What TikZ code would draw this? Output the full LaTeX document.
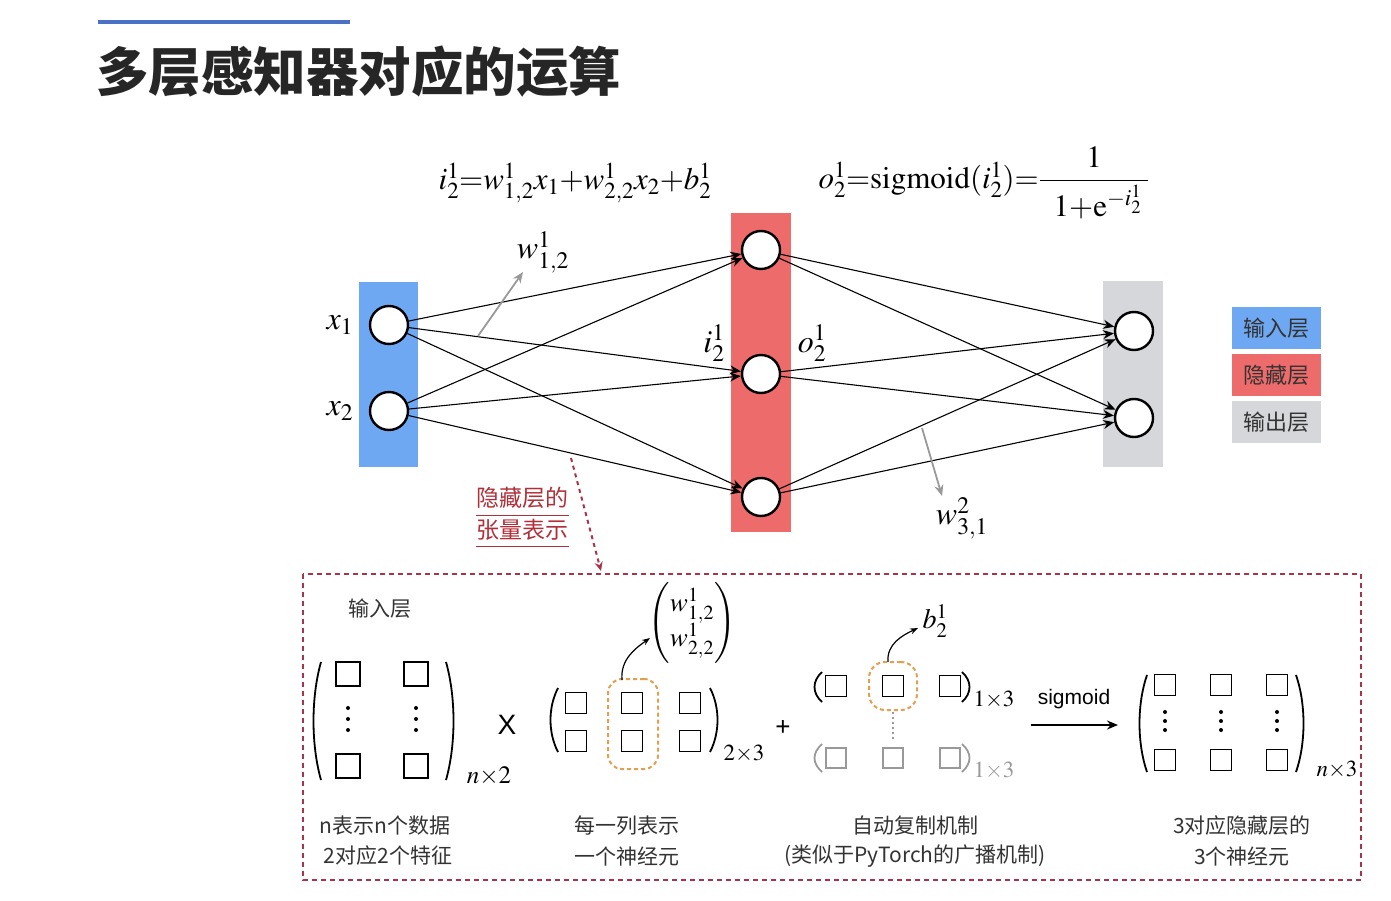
\documentclass[tikz,border=0pt]{standalone}
\usepackage{amsmath}
\usepackage{mathptmx}
\usepackage{fontspec}
\setmainfont{Liberation Serif}
\setsansfont{Liberation Sans}
\newfontfamily\cjk{Noto Sans CJK SC}
\usetikzlibrary{arrows.meta}
\definecolor{inblue}{HTML}{6FA8F2}
\definecolor{hidred}{HTML}{EE6B6B}
\definecolor{outgray}{HTML}{D5D7DA}
\definecolor{titleblue}{HTML}{4A72C4}
\definecolor{boxred}{HTML}{A8344A}
\definecolor{hand}{HTML}{B0303A}
\definecolor{orng}{HTML}{E0A050}
\definecolor{txt}{HTML}{333333}
\newcommand\myLP[3]{\draw[line width=1.8pt] (#1+7,#2) .. controls (#1-3,#2+0.3*#3-0.3*#2) and (#1-3,#3-0.3*#3+0.3*#2) .. (#1+7,#3);}
\newcommand\myRP[3]{\draw[line width=1.8pt] (#1-7,#2) .. controls (#1+3,#2+0.3*#3-0.3*#2) and (#1+3,#3-0.3*#3+0.3*#2) .. (#1-7,#3);}
\newcommand\myDots[3]{\fill (#1,#2-#3) circle (2pt) (#1,#2) circle (2pt) (#1,#2+#3) circle (2pt);}
\begin{document}
\begin{tikzpicture}[x=1pt,y=-1pt,
  neuron/.style={circle,draw=black,line width=2.4pt,fill=white,minimum size=38pt,inner sep=0pt},
  edge/.style={line width=1.1pt,-{Stealth[length=11pt,width=9pt]}},
  grayarr/.style={black!40,line width=1.8pt,-{Stealth[length=11pt,width=9pt]}},
  sq/.style={draw,line width=1.3pt,minimum size=21pt,inner sep=0pt},
  gsq/.style={draw=black!40,line width=1.3pt,minimum size=20pt,inner sep=0pt},
  legend/.style={minimum width=89pt,minimum height=42pt,inner sep=0pt,font=\cjk\fontsize{22}{24}\selectfont,text=txt},
  captxt/.style={font=\cjk\fontsize{21}{24}\selectfont,text=txt},
  handtxt/.style={font=\cjk\fontsize{23}{25}\selectfont,text=hand},
  mlbl/.style={font=\fontsize{32}{34}\selectfont},
  eqtxt/.style={font=\fontsize{31}{34}\selectfont}
]
\useasboundingbox (0,0) rectangle (1391,901);
% title
\draw[titleblue,line width=4pt] (98,22) -- (350,22);
\node[anchor=west,font=\cjk\bfseries\fontsize{52.5}{56}\selectfont,text=black!85,inner sep=0pt] (title) at (96,72) {多层感知器对应的运算};

% layer boxes
\fill[inblue] (359,282) rectangle (418,467);
\fill[hidred] (731,213) rectangle (791,532);
\fill[outgray] (1103,281) rectangle (1163,467);

\node[neuron] (x1) at (389,325) {};
\node[neuron] (x2) at (389,411) {};
\node[neuron] (h1) at (761,250) {};
\node[neuron] (h2) at (761,374) {};
\node[neuron] (h3) at (761,497) {};
\node[neuron] (y1) at (1134,331) {};
\node[neuron] (y2) at (1134,418) {};

\foreach \a in {x1,x2} \foreach \b in {h1,h2,h3} \draw[edge] (\a) -- (\b);
\foreach \a in {h1,h2,h3} \foreach \b in {y1,y2} \draw[edge] (\a) -- (\b);

\node[mlbl] (lx1) at (340,325) {$x_1$};
\node[mlbl] (lx2) at (340,411) {$x_2$};
\node[mlbl] (li) at (714,343) {$i^1_2$};
\node[mlbl] (lo) at (812,343) {$o^1_2$};
\node[mlbl] (lw1) at (543,252) {$w^1_{1,2}$};
\node[mlbl] (lw2) at (962,518) {$w^2_{3,1}$};
\coordinate (w1s) at (478,336);
\coordinate (w1e) at (523,272);
\draw[grayarr] (w1s) -- (w1e);
\coordinate (w2s) at (922,428);
\coordinate (w2e) at (942,496);
\draw[grayarr] (w2s) -- (w2e);

% equations
\node[eqtxt] (eqi) at (575,183) {$i^1_2{=}w^1_{1,2}x_1{+}w^1_{2,2}x_2{+}b^1_2$};
\node[eqtxt,anchor=west] (eqo) at (815,183) {$o^1_2{=}\mathrm{sigmoid}(i^1_2){=}\dfrac{1}{\;\;1{+}\mathrm{e}^{-i^1_2}\;}$};

% legend
\node[legend,fill=inblue] (lg1) at (1276,328) {输入层};
\node[legend,fill=hidred] (lg2) at (1276,375) {隐藏层};
\node[legend,fill=outgray] (lg3) at (1276,422) {输出层};

% red annotation
\node[handtxt] (ann1) at (522,498) {隐藏层的};
\node[handtxt] (ann2) at (522,530) {张量表示};
\draw[hand,line width=1pt] (476,515) -- (569,515);
\draw[hand,line width=1pt] (476,546) -- (569,546);
\coordinate (ds) at (571,458);
\coordinate (de) at (601,571);
\draw[boxred,line width=2pt,dash pattern=on 4pt off 4pt,-{Stealth[length=9pt,width=8pt]}] (ds) -- (de);

% dashed box
\draw[boxred,line width=1.8pt,dash pattern=on 5pt off 4pt] (303,574) rectangle (1361,880);

% matrix 1
\node[captxt] (inl) at (380,609) {输入层};
\myLP{314}{662}{780}
\myRP{453}{662}{780}
\node[sq,minimum size=24pt] (a11) at (348,674) {};
\node[sq,minimum size=24pt] (a12) at (416,674) {};
\node[sq,minimum size=24pt] (a21) at (348,766) {};
\node[sq,minimum size=24pt] (a22) at (416,766) {};
\myDots{348}{719}{11}
\myDots{416}{719}{11}
\node[font=\fontsize{25}{27}\selectfont] (n2) at (489,776) {$n{\times}2$};
\node[font=\sffamily\fontsize{28}{30}\selectfont] (times) at (507,725) {X};

% matrix 2
\myLP{551}{688}{752}
\myRP{717}{688}{752}
\foreach \c/\x in {1/576,2/632,3/690} {
  \node[sq] (b1\c) at (\x,703) {};
  \node[sq] (b2\c) at (\x,741) {};
}
\node[font=\fontsize{23}{25}\selectfont] (d23) at (744,754) {$2{\times}3$};
\node[draw=orng,line width=2pt,dash pattern=on 4pt off 3pt,rounded corners=14pt,minimum width=50pt,minimum height=90pt] (col) at (633,724) {};
\node[font=\fontsize{27}{30}\selectfont] (wvec) at (692,623) {$\begin{pmatrix} w^1_{1,2}\\ w^1_{2,2}\end{pmatrix}$};
\coordinate (wa) at (650,638);
\draw[line width=1.2pt,-{Stealth[length=8pt,width=6pt]}] (622,680) to[out=95,in=215] (wa);
\node[font=\sffamily\fontsize{26}{28}\selectfont] (plus) at (783,728) {+};

% bias vectors
\myLP{815}{672}{702}
\myRP{969}{672}{702}
\node[sq] (c1) at (836,686) {};
\node[sq] (c2) at (893,686) {};
\node[sq] (c3) at (950,686) {};
\node[font=\fontsize{23}{25}\selectfont] (c13) at (994,700) {$1{\times}3$};
\node[draw=orng,line width=2pt,dash pattern=on 4pt off 3pt,rounded corners=16pt,minimum size=48pt] (bc) at (893,686) {};
\coordinate (ba) at (918,628);
\draw[line width=1.2pt,-{Stealth[length=8pt,width=6pt]}] (888,662) to[out=95,in=205] (ba);
\node[font=\fontsize{28}{30}\selectfont] (bl) at (935,621) {$b^1_2$};
\draw[black!40,line width=1.3pt,dash pattern=on 2pt off 3pt] (893,712) -- (893,740);
\begin{scope}[black!40]
\draw[line width=1.8pt] (822,744) .. controls (812,753) and (812,763) .. (822,772);
\draw[line width=1.8pt] (962,744) .. controls (972,753) and (972,763) .. (962,772);
\end{scope}
\node[gsq] (g1) at (836,758) {};
\node[gsq] (g2) at (893,758) {};
\node[gsq] (g3) at (950,758) {};
\node[font=\fontsize{23}{25}\selectfont,text=black!40] (g13) at (994,771) {$1{\times}3$};

% sigmoid arrow
\node[font=\sffamily\fontsize{21}{24}\selectfont] (sig) at (1074,699) {sigmoid};
\coordinate (sa) at (1031,725);
\coordinate (sb) at (1118,725);
\draw[line width=1.8pt,-{Stealth[length=11pt,width=9pt]}] (sa) -- (sb);

% matrix 3
\myLP{1140}{675}{772}
\myRP{1303}{675}{772}
\foreach \c/\x in {1/1165,2/1221,3/1277} {
  \node[sq] (e1\c) at (\x,685) {};
  \node[sq] (e2\c) at (\x,760) {};
  \myDots{\x}{721}{9}
}
\node[font=\fontsize{23}{25}\selectfont] (n3) at (1337,770) {$n{\times}3$};

% captions
\node[captxt] (t1) at (385,826) {n表示n个数据};
\node[captxt] (t2) at (388,856) {2对应2个特征};
\node[captxt] (t3) at (627,826) {每一列表示};
\node[captxt] (t4) at (627,856) {一个神经元};
\node[captxt] (t5) at (915,826) {自动复制机制};
\node[captxt] (t6) at (915,856) {(类似于PyTorch的广播机制)};
\node[captxt] (t7) at (1242,826) {3对应隐藏层的};
\node[captxt] (t8) at (1242,856) {3个神经元};
\end{tikzpicture}
\end{document}
